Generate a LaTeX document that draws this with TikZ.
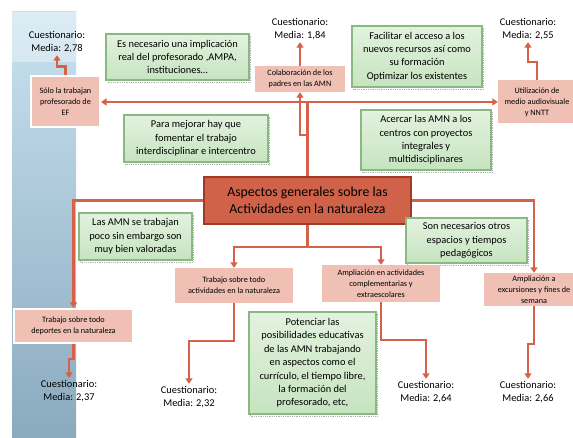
\documentclass[tikz,border=0pt]{standalone}
\usepackage{fontspec}
\setmainfont{Carlito}
\usetikzlibrary{arrows.meta}
\definecolor{linkred}{RGB}{214,96,72}
\definecolor{mainfill}{RGB}{208,98,74}
\definecolor{mainline}{RGB}{160,58,40}
\definecolor{pinkfill}{RGB}{240,192,181}
\definecolor{greenhi}{RGB}{226,242,222}
\definecolor{greenlo}{RGB}{198,228,192}
\definecolor{greenline}{RGB}{138,184,131}
\definecolor{stripetop}{RGB}{200,226,240}
\definecolor{stripebot}{RGB}{138,170,190}
\begin{document}
\begin{tikzpicture}[x=1pt,y=-1pt,
mainbox/.style={rectangle, draw=mainline, line width=1.8pt, fill=mainfill, align=center, font=\fontsize{13.8}{16.8}\selectfont},
greenbox/.style={rectangle, draw=greenline, line width=1.5pt, top color=greenhi, bottom color=greenlo, align=center, inner sep=2pt,
  font=\fontsize{10.4}{13.4}\selectfont,
  preaction={draw=gray!60, densely dotted, line width=0.8pt, transform canvas={shift={(1.5pt,-2pt)}}}},
pinkbox/.style={rectangle, fill=pinkfill, align=center, inner sep=1pt, font=\fontsize{8.2}{11}\selectfont},
quest/.style={align=center, inner sep=2pt, font=\fontsize{10.4}{13.5}\selectfont},
conn/.style={draw=linkred, line width=2.2pt, -{Triangle[length=5.5pt,width=7pt]}},
]
\useasboundingbox (0,0) rectangle (573,438);
% background stripe
\shade[top color=stripetop, bottom color=stripebot] (12,12) rectangle (76,438);
\fill[white, opacity=0.35] (12,12) rectangle (76,62);

% centre
\node[mainbox, minimum width=207pt, minimum height=47pt] (main) at (307.5,200.5)
  {Aspectos generales sobre las\\Actividades en la naturaleza};

% green comments
\node[greenbox, minimum width=143pt, minimum height=46pt] (implica) at (177.5,57)
  {Es necesario una implicación\\real del profesorado ,AMPA,\\instituciones…};
\node[greenbox, minimum width=130pt, minimum height=61pt] (facilitar) at (417,56.5)
  {Facilitar el acceso a los\\nuevos recursos así como\\su formación\\Optimizar los existentes};
\node[greenbox, minimum width=144pt, minimum height=47pt] (mejorar) at (196,138.5)
  {Para mejorar hay que\\fomentar el trabajo\\interdisciplinar e intercentro};
\node[greenbox, minimum width=130pt, minimum height=60pt] (acercar) at (426,140)
  {Acercar las AMN a los\\centros con proyectos\\integrales y\\multidisciplinares};
\node[greenbox, minimum width=113pt, minimum height=47pt] (valoradas) at (135.5,236.5)
  {Las AMN se trabajan\\poco sin embargo son\\muy bien valoradas};
\node[greenbox, minimum width=121pt, minimum height=45pt] (espacios) at (466.5,240.5)
  {Son necesarios otros\\espacios y tiempos\\pedagógicos};
\node[greenbox, minimum width=127pt, minimum height=102pt] (potenciar) at (312.5,363)
  {Potenciar las\\posibilidades educativas\\de las AMN trabajando\\en aspectos como el\\currículo, el tiempo libre,\\la formación del\\profesorado, etc,};

% pink topics
\node[pinkbox, draw=white, line width=2pt, minimum width=69pt, minimum height=51pt] (solo) at (65.5,102)
  {Sólo la trabajan\\profesorado de\\EF};
\node[pinkbox, minimum width=90pt, minimum height=26pt] (colabora) at (300,79)
  {Colaboración de los\\padres en las AMN};
\node[pinkbox, minimum width=78pt, minimum height=43pt] (medios) at (537,102)
  {Utilización de\\medio audiovisuale\\y NNTT};
\node[pinkbox, minimum width=118pt, minimum height=35pt] (activ) at (234,285.5)
  {Trabajo sobre todo\\actividades en la naturaleza};
\node[pinkbox, minimum width=118pt, minimum height=37pt] (amplia) at (381,283.5)
  {Ampliación en actividades\\complementarias y\\extraescolares};
\node[pinkbox, minimum width=100pt, minimum height=33pt] (excurs) at (534,289.5)
  {Ampliación a\\excursiones y fines de\\semana};
\node[pinkbox, draw=white, line width=2pt, minimum width=119pt, minimum height=34pt] (deportes) at (73.5,326)
  {Trabajo sobre todo\\deportes en la naturaleza};

% questionnaire results
\node[quest] (q1) at (57,42) {Cuestionario:\\Media: 2,78};
\node[quest] (q2) at (300,29) {Cuestionario:\\Media: 1,84};
\node[quest] (q3) at (528,29) {Cuestionario:\\Media: 2,55};
\node[quest] (q4) at (69,391) {Cuestionario:\\Media: 2,37};
\node[quest] (q5) at (189,397) {Cuestionario:\\Media: 2,32};
\node[quest] (q6) at (426,392) {Cuestionario:\\Media: 2,64};
\node[quest] (q7) at (528,392) {Cuestionario:\\Media: 2,66};

% connectors
\draw[conn, {Triangle[length=5.5pt,width=7pt]}-{Triangle[length=5.5pt,width=7pt]}] (solo.east) -- (medios.west);
\draw[conn, -] (main.north) -- (main.north |- solo.east);
\draw[conn] ([yshift=41pt]main.north) -| (colabora.south);
\draw[conn] (solo.north) -- ++(0,-9) -| (q1.south);
\draw[conn] (colabora.north) -- (q2.south);
\draw[conn] (medios.north) -- ++(0,-18) -| (q3.south);
\draw[conn] (main.west) -| (deportes.north);
\draw[conn] (deportes.south) -- ++(0,15) -| (q4.north);
\draw[conn, -] (main.south) -- ++(0,22) coordinate (split);
\draw[conn] (split) -| (activ.north);
\draw[conn] (split) -| (amplia.north);
\draw[conn] (main.east) -| (excurs.north);
\draw[conn] (activ.south) -- ++(0,38) -| (q5.north);
\draw[conn] (amplia.south) -- ++(0,38) -| (q6.north);
\draw[conn] (excurs.south) -- ++(0,38) -| (q7.north);
\end{tikzpicture}
\end{document}
